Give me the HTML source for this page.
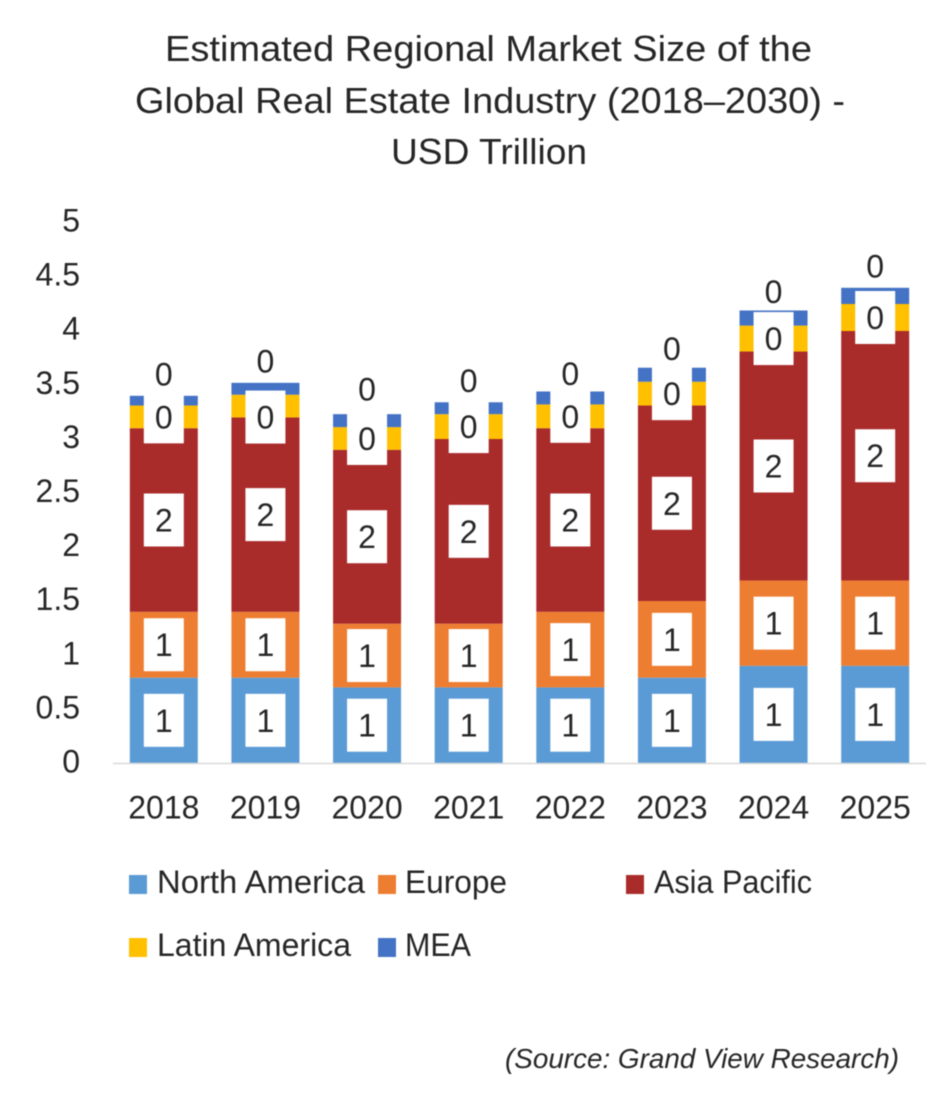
<!DOCTYPE html>
<html lang="en">
<head>
<meta charset="utf-8">
<title>Estimated Regional Market Size of the Global Real Estate Industry</title>
<style>
html,body{margin:0;padding:0;background:#fff;width:938px;height:1096px;overflow:hidden}
svg{display:block;filter:blur(.55px)}
text{font-family:"Liberation Sans",sans-serif;fill:#262626}
</style>
</head>
<body>
<svg id="chart" xmlns="http://www.w3.org/2000/svg" width="938" height="1096" viewBox="0 0 938 1096">
  <rect x="0" y="0" width="938" height="1096" fill="#fff"/>
  <g font-size="36">
    <text x="165" y="61" textLength="647" lengthAdjust="spacingAndGlyphs">Estimated Regional Market Size of the</text>
    <text x="135" y="113" textLength="710" lengthAdjust="spacingAndGlyphs">Global Real Estate Industry (2018–2030) -</text>
    <text x="391" y="164" textLength="196" lengthAdjust="spacingAndGlyphs">USD Trillion</text>
  </g>
  <g id="y-axis"></g>
  <g id="bars"></g>
  <g id="labels"></g>
  <line x1="113" x2="926" y1="763.5" y2="763.5" stroke="#d9d9d9" stroke-width="1.5"/>
  <g id="x-axis"></g>
  <g font-size="32">
    <g>
      <rect x="129" y="875" width="18" height="19" fill="#5b9bd5"/>
      <text x="157" y="893" textLength="208" lengthAdjust="spacingAndGlyphs">North America</text>
    </g>
    <g>
      <rect x="378" y="875" width="18" height="19" fill="#ed7d31"/>
      <text x="405" y="893" textLength="102" lengthAdjust="spacingAndGlyphs">Europe</text>
    </g>
    <g>
      <rect x="626" y="875" width="18" height="19" fill="#a92b2a"/>
      <text x="654" y="893" textLength="158" lengthAdjust="spacingAndGlyphs">Asia Pacific</text>
    </g>
    <g>
      <rect x="129" y="938" width="18" height="19" fill="#ffc000"/>
      <text x="157" y="956" textLength="194" lengthAdjust="spacingAndGlyphs">Latin America</text>
    </g>
    <g>
      <rect x="378" y="938" width="18" height="19" fill="#4472c4"/>
      <text x="405" y="956" textLength="66" lengthAdjust="spacingAndGlyphs">MEA</text>
    </g>
  </g>
  <text x="505" y="1068" font-size="28" font-style="italic" textLength="394" lengthAdjust="spacingAndGlyphs">(Source: Grand View Research)</text>
</svg>
<script>
const categories = ['2018', '2019', '2020', '2021', '2022', '2023', '2024', '2025'];
const yTickLabels = ['0', '0.5', '1', '1.5', '2', '2.5', '3', '3.5', '4', '4.5', '5'];
const northAmerica = [0.79, 0.79, 0.70, 0.70, 0.70, 0.79, 0.90, 0.90];
const europe = [0.61, 0.61, 0.59, 0.59, 0.70, 0.71, 0.79, 0.79];
const asiaPacific = [1.70, 1.80, 1.61, 1.71, 1.70, 1.81, 2.12, 2.31];
const latinAmerica = [0.21, 0.21, 0.21, 0.23, 0.22, 0.22, 0.24, 0.25];
const mea = [0.09, 0.11, 0.12, 0.11, 0.12, 0.13, 0.14, 0.15];
const seriesNames = ['north-america', 'europe', 'asia-pacific', 'latin-america', 'mea'];
const seriesColors = ['#5b9bd5', '#ed7d31', '#a92b2a', '#ffc000', '#4472c4'];
const seriesValues = [northAmerica, europe, asiaPacific, latinAmerica, mea];

const NS = 'http://www.w3.org/2000/svg';
const plotLeft = 113, plotRight = 926, baseY = 763, unitPx = 108;
const barW = 68, boxW = 40, boxH = 53;
const step = (plotRight - plotLeft) / categories.length;
function xScale(i) { return plotLeft + step * (i + 0.5); }
function yScale(v) { return baseY - v * unitPx; }
function tickY(label) { return 761 - parseFloat(label) * 108.2; }
function labelNudge(seriesName, category) {
  // Hand-placed data labels in the original chart
  const key = seriesName + '-' + category;
  if (key === 'latin-america-2019') return 11;
  if (key === 'mea-2020') return -3;
  if (key === 'mea-2022') return 4;
  if (key === 'mea-2023') return 3;
  if (key === 'mea-2024') return 3;
  return 0;
}
function make(tag, props, parent) {
  const el = document.createElementNS(NS, tag);
  for (const k in props) el.setAttribute(k, props[k]);
  parent.appendChild(el);
  return el;
}
const yAxis = document.getElementById('y-axis');
const xAxis = document.getElementById('x-axis');
const bars = document.getElementById('bars');
const labels = document.getElementById('labels');

yTickLabels.forEach(function (t) {
  const el = make('text', { x: 80, y: tickY(t) + 11.5, 'text-anchor': 'end', 'font-size': 32 }, yAxis);
  
  
  el.textContent = t;
});

categories.forEach(function (c, i) {
  const el = make('text', { x: xScale(i), y: 818.5, 'text-anchor': 'middle', 'font-size': 32 }, xAxis);
  
  
  el.textContent = c;
});

categories.forEach(function (c, i) {
  let cum = 0;
  seriesValues.forEach(function (vals, s) {
    const v = vals[i];
    const top = yScale(cum + v), bottom = yScale(cum);
    const r = make('rect', { x: xScale(i) - barW / 2, y: top, width: barW, height: bottom - top, fill: seriesColors[s] }, bars);
    
    
    const isTop = s === seriesValues.length - 1;
    const cy = (isTop ? top - 22 : (top + bottom) / 2) + labelNudge(seriesNames[s], c);
    if (!isTop) {
      const b = make('rect', { x: xScale(i) - boxW / 2, y: cy - boxH / 2, width: boxW, height: boxH, fill: '#fff' }, labels);
      
      
    }
    const t = make('text', { x: xScale(i), y: cy + 11.5, 'text-anchor': 'middle', 'font-size': 32 }, labels);
    
    
    t.textContent = String(Math.round(v));
    cum += v;
  });
});
</script>
</body>
</html>
